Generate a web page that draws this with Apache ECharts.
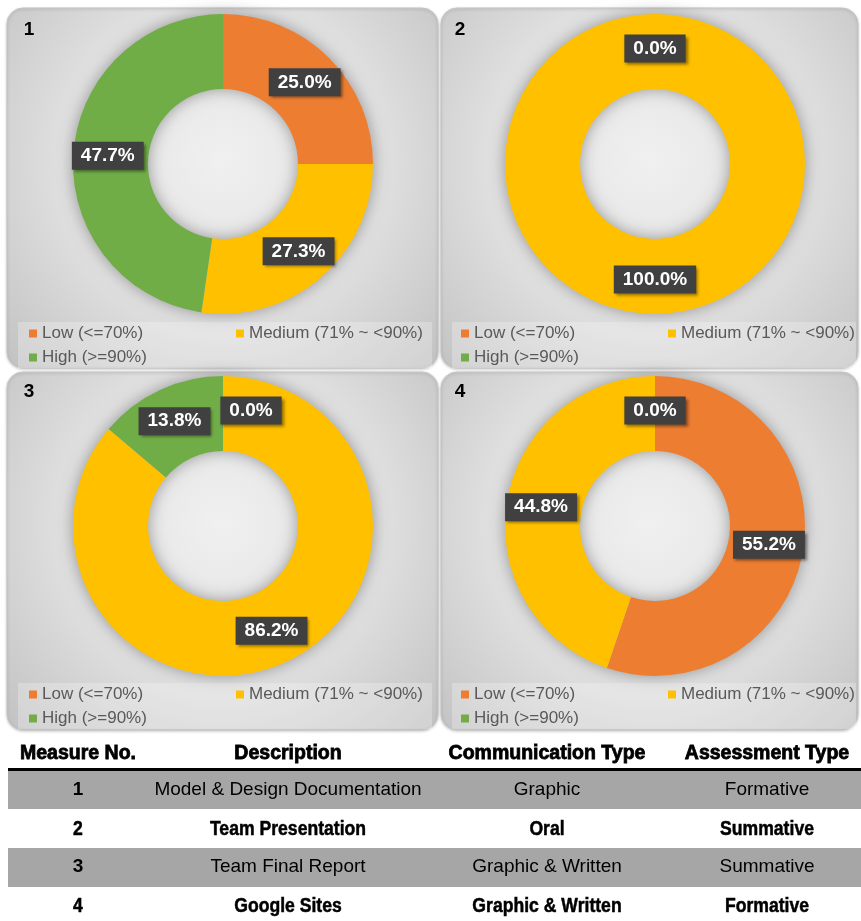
<!DOCTYPE html>
<html>
<head>
<meta charset="utf-8">
<script src="https://cdn.jsdelivr.net/npm/echarts@6/dist/echarts.min.js"></script>
<style>
html,body{margin:0;padding:0;background:#fff;}
#chart{width:861px;height:921px;}
</style>
</head>
<body>
<div id="chart"></div>
<script>
// ---- data ----
const categories = ['Low (<=70%)', 'Medium (71% ~ <90%)', 'High (>=90%)'];
const panelLabels = ['1', '2', '3', '4'];
const measure1 = [25.0, 27.3, 47.7];
const measure2 = [0.0, 100.0, 0.0];
const measure3 = [0.0, 86.2, 13.8];
const measure4 = [55.2, 44.8, 0.0];

const tableHeader = ['Measure No.', 'Description', 'Communication Type', 'Assessment Type'];
const measureNo = ['1', '2', '3', '4'];
const descriptions = ['Model & Design Documentation', 'Team Presentation', 'Team Final Report', 'Google Sites'];
const commTypes = ['Graphic', 'Oral', 'Graphic & Written', 'Graphic & Written'];
const assessTypes = ['Formative', 'Summative', 'Summative', 'Formative'];

// ---- layout / style ----
const FONT = 'Liberation Sans, Arial, Helvetica, sans-serif';
const colors = ['#ED7D31', '#FFC000', '#70AD47'];
const panels = [
  {x: 7, y: 8, w: 431, h: 360, cx: 223, cy: 164, num: [29, 30], leg: [29, 324], box: [18, 322, 414, 46]},
  {x: 441, y: 8, w: 417, h: 360, cx: 655, cy: 164, num: [460, 30], leg: [461, 324], box: [452, 322, 404, 46]},
  {x: 7, y: 372, w: 431, h: 358, cx: 223, cy: 526, num: [29, 392], leg: [29, 685], box: [18, 683, 414, 46]},
  {x: 441, y: 372, w: 417, h: 358, cx: 655, cy: 526, num: [460, 392], leg: [461, 685], box: [452, 683, 404, 46]}
];
const allData = [measure1, measure2, measure3, measure4];

const graphics = [];
panels.forEach((p, i) => {
  graphics.push({
    type: 'rect', z: 0,
    shape: {x: p.x, y: p.y, width: p.w, height: p.h, r: 16},
    style: {
      fill: {type: 'radial', x: 0.5, y: 0.42, r: 0.8,
        colorStops: [{offset: 0, color: '#f0f0f0'}, {offset: 0.55, color: '#e0e0e0'}, {offset: 1, color: '#c4c4c4'}]},
      stroke: '#c4c4c4', lineWidth: 1,
      shadowBlur: 3, shadowColor: 'rgba(0,0,0,0.2)', shadowOffsetY: 1
    }
  });
  graphics.push({
    type: 'rect', z: 1,
    shape: {x: p.box[0], y: p.box[1], width: p.box[2], height: p.box[3]},
    style: {fill: 'rgba(255,255,255,0.25)'}
  });
  graphics.push({
    type: 'text', z: 2, x: p.num[0], y: p.num[1],
    style: {text: panelLabels[i], align: 'center', verticalAlign: 'middle',
      fontFamily: FONT, fontWeight: 'bold', fontSize: 19, fill: '#000'}
  });
});

// table
const colX = [78, 288, 547, 767];
const headerY = 754;
const rowY = [790, 829, 867, 906];
const rowTop = [771, 809, 848, 887];
const rowH = [38, 39, 39, 34];
[0, 2].forEach(r => {
  graphics.push({type: 'rect', z: 0, shape: {x: 8, y: rowTop[r], width: 853, height: rowH[r]}, style: {fill: '#a6a6a6'}});
});
graphics.push({type: 'rect', z: 1, shape: {x: 8, y: 768, width: 853, height: 3}, style: {fill: '#000'}});
tableHeader.forEach((t, c) => {
  graphics.push({type: 'text', z: 2, x: colX[c], y: headerY,
    style: {text: t, align: 'center', verticalAlign: 'middle', fontFamily: FONT, fontWeight: 'bold', fontSize: 19.5, fill: '#000',
      stroke: '#000', lineWidth: 0.8}});
});
const rows = measureNo.map((m, i) => [m, descriptions[i], commTypes[i], assessTypes[i]]);
rows.forEach((row, r) => {
  const boldRow = (r % 2 === 1);
  row.forEach((t, c) => {
    const bold = boldRow || c === 0;
    graphics.push({type: 'text', z: 2, x: colX[c], y: rowY[r], scaleX: boldRow ? 0.88 : 1,
      style: {text: t, align: 'center', verticalAlign: 'middle', fontFamily: FONT,
        fontWeight: bold ? 'bold' : 'normal', fontSize: boldRow ? 20 : 19, fill: '#000',
        stroke: boldRow ? '#000' : null, lineWidth: boldRow ? 0.5 : 0}});
  });
});

// series & legends
const series = [];
const legends = [];
panels.forEach((p, i) => {
  const vals = allData[i];
  // soft halo behind the ring
  series.push({
    type: 'pie', silent: true, animation: false,
    center: [p.cx, p.cy], radius: [75, 150],
    label: {show: false}, labelLine: {show: false},
    itemStyle: {color: '#bdbdbd', shadowBlur: 16, shadowColor: 'rgba(0,0,0,0.35)'},
    data: [{name: '', value: 1}]
  });
  series.push({
    type: 'pie', silent: true, animation: false,
    center: [p.cx, p.cy], radius: [75, 150],
    startAngle: 90, clockwise: true,
    avoidLabelOverlap: false,
    itemStyle: {borderWidth: 0},
    labelLine: {show: false},
    label: {
      show: true, position: 'inside',
      formatter: (q) => q.value.toFixed(1) + '%',
      color: '#fff', fontFamily: FONT, fontWeight: 'bold', fontSize: 19,
      backgroundColor: '#404040', padding: [5, 9, 4, 9],
      shadowBlur: 3, shadowOffsetX: 2, shadowOffsetY: 2, shadowColor: 'rgba(0,0,0,0.45)'
    },
    data: categories.map((name, k) => {
      const d = {name: name, value: vals[k], itemStyle: {color: colors[k]}};
      if (i === 2 && k === 0) d.label = {offset: [28, 0]};
      return d;
    })
  });
  legends.push({
    left: p.leg[0], top: p.leg[1], orient: 'horizontal', width: 500,
    padding: 0, itemGap: 5, itemWidth: 8, itemHeight: 8, icon: 'rect',
    selectedMode: false,
    textStyle: {fontFamily: FONT, fontSize: 17, color: '#595959', width: 189, lineHeight: 19},
    data: categories.map(n => ({name: n, itemStyle: {color: colors[categories.indexOf(n)]}}))
  });
});

const chart = echarts.init(document.getElementById('chart'), null, {renderer: 'canvas'});
chart.setOption({
  animation: false,
  color: colors,
  graphic: {elements: graphics},
  legend: legends,
  series: series
});
</script>
</body>
</html>
